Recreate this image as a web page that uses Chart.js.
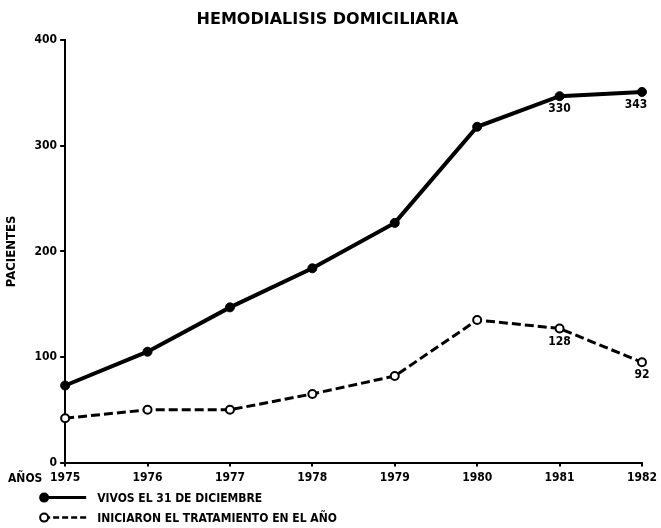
<!DOCTYPE html>
<html>
<head>
<meta charset="utf-8">
<script src="https://cdn.jsdelivr.net/npm/chart.js@4"></script>
<style>
  body { margin: 0; background: #fff; }
  canvas { display: block; }
</style>
</head>
<body>
<canvas id="chart" width="661" height="528"></canvas>
<script>
const years = ['1975', '1976', '1977', '1978', '1979', '1980', '1981', '1982'];
const vivos = [73, 105, 147, 184, 227, 318, 347, 351];
const iniciaron = [42, 50, 50, 65, 82, 135, 127, 95];
// numbers printed next to the last points
const vivosNotes = [null, null, null, null, null, null, '330', '343'];
const iniciaronNotes = [null, null, null, null, null, null, '128', '92'];
const legendLabels = ['VIVOS EL 31 DE DICIEMBRE', 'INICIARON EL TRATAMIENTO EN EL AÑO'];

const FONT = '"DejaVu Sans Condensed", "DejaVu Sans", sans-serif';

// point values, "AÑOS" label and the legend underneath
const extras = {
    id: 'extras',
    afterDatasetsDraw(chart) {
        const ctx = chart.ctx;
        const area = chart.chartArea;
        ctx.save();
        ctx.fillStyle = '#000';
        ctx.font = 'bold 12px ' + FONT;
        ctx.textAlign = 'center';
        ctx.textBaseline = 'top';
        [vivosNotes, iniciaronNotes].forEach((notes, di) => {
            const meta = chart.getDatasetMeta(di);
            notes.forEach((txt, i) => {
                if (!txt) return;
                const p = meta.data[i];
                ctx.fillText(txt, p.x - (i === notes.length - 1 && di === 0 ? 6 : 0), p.y + 7);
            });
        });

        // "AÑOS" before the year labels
        ctx.textAlign = 'left';
        ctx.textBaseline = 'middle';
        ctx.fillText('AÑOS', 8, area.bottom + 16);

        // legend
        const x0 = area.left - 21, x1 = area.left + 21;
        const ys = [area.bottom + 35, area.bottom + 55];
        ys.forEach((y, i) => {
            ctx.strokeStyle = '#000';
            ctx.lineWidth = i === 0 ? 3 : 2.5;
            ctx.setLineDash(i === 0 ? [] : [6, 3]);
            ctx.beginPath();
            ctx.moveTo(x0, y);
            ctx.lineTo(x1, y);
            ctx.stroke();
            ctx.setLineDash([]);
            ctx.beginPath();
            ctx.arc(x0, y, 4, 0, Math.PI * 2);
            ctx.fillStyle = i === 0 ? '#000' : '#fff';
            ctx.fill();
            ctx.lineWidth = 2;
            ctx.stroke();
            ctx.fillStyle = '#000';
            ctx.fillText(legendLabels[i], x1 + 11, y + 1);
        });
        ctx.restore();
    }
};

new Chart(document.getElementById('chart'), {
    type: 'line',
    data: {
        labels: years,
        datasets: [{
            label: legendLabels[0],
            data: vivos,
            borderColor: '#000',
            borderWidth: 4,
            pointRadius: 4.5,
            pointBorderWidth: 1,
            pointBackgroundColor: '#000',
            pointBorderColor: '#000',
            tension: 0
        }, {
            label: legendLabels[1],
            data: iniciaron,
            borderColor: '#000',
            borderWidth: 3,
            borderDash: [9, 4],
            pointRadius: 4,
            pointBorderWidth: 2,
            pointBackgroundColor: '#fff',
            pointBorderColor: '#000',
            tension: 0
        }]
    },
    options: {
        responsive: false,
        animation: false,
        layout: { padding: { left: 4, right: 10, top: 0, bottom: 39 } },
        scales: {
            x: {
                offset: false,
                grid: { display: true, drawOnChartArea: false, drawTicks: true, tickLength: 4, color: '#000', lineWidth: 2 },
                border: { color: '#000', width: 2 },
                ticks: { color: '#000', font: { family: FONT, weight: 'bold', size: 12 }, maxRotation: 0, padding: 4 }
            },
            y: {
                min: 0,
                max: 400,
                grid: { display: true, drawOnChartArea: false, drawTicks: true, tickLength: 5, color: '#000', lineWidth: 2 },
                border: { color: '#000', width: 2 },
                ticks: { stepSize: 100, color: '#000', font: { family: FONT, weight: 'bold', size: 12 }, padding: 3 },
                title: {
                    display: true,
                    text: 'PACIENTES',
                    color: '#000',
                    font: { family: FONT, weight: 'bold', size: 13 },
                    padding: { top: 0, bottom: 12 }
                }
            }
        },
        plugins: {
            legend: { display: false },
            tooltip: { enabled: false },
            title: {
                display: true,
                text: 'HEMODIALISIS DOMICILIARIA',
                color: '#000',
                font: { family: '"DejaVu Sans", sans-serif', weight: 'bold', size: 16 },
                padding: { top: 10, bottom: 11 }
            }
        }
    },
    plugins: [extras]
});
</script>
</body>
</html>
